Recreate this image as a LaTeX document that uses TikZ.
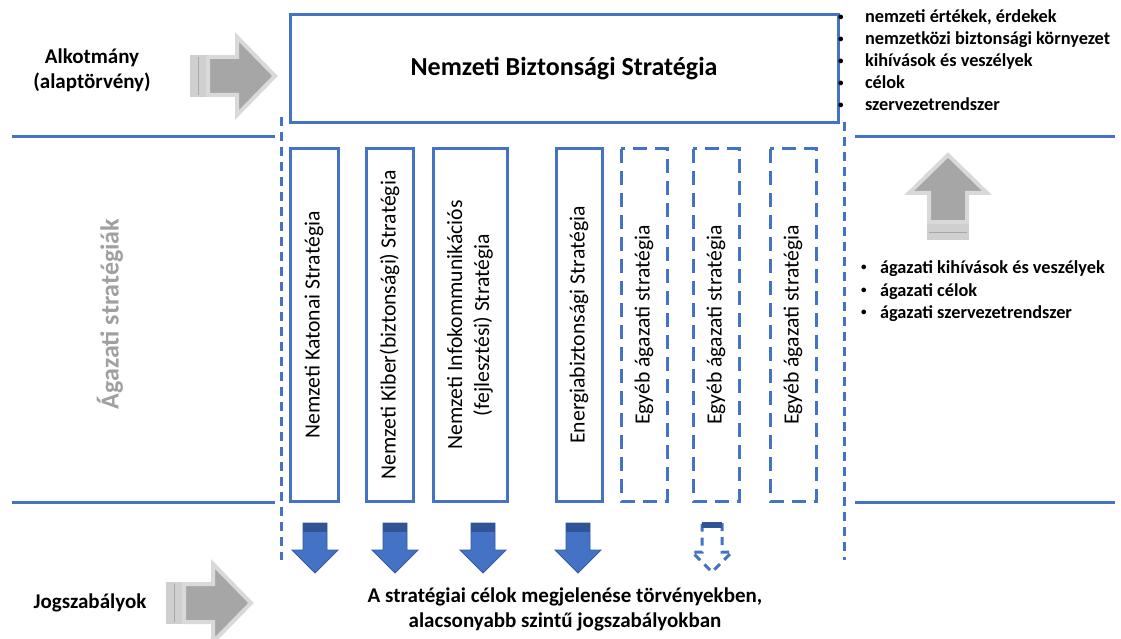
\documentclass[tikz,border=0pt]{standalone}
\usepackage{fontspec}
\setmainfont{Carlito}
\definecolor{oblue}{HTML}{4472C4}
\definecolor{dblue}{HTML}{2F5597}
\definecolor{agray}{HTML}{A6A6A6}
\definecolor{lgray}{HTML}{D9D9D9}
\definecolor{bgray}{HTML}{CFCFCF}
\definecolor{tgray}{HTML}{A0A0A0}
\newcommand\myvfont{\fontsize{21.7}{27}\selectfont}
\newcommand\mybfont{\fontsize{21}{25}\selectfont\bfseries}
\newcommand\mylfont{\fontsize{18.3}{22}\selectfont\bfseries}
\newcommand\mydot{\raisebox{0.25ex}{\fontsize{11}{11}\selectfont•}}
\tikzset{
  grayarrow/.pic={
    \fill[bgray] (0,-21) rectangle (16,21);
    \draw[agray, line width=1pt] (8,-19) -- (8,19);
    \filldraw[fill=agray, draw=lgray, line width=4pt, line join=miter]
      (18,-19) -- (47,-19) -- (47,-39) -- (85,0) -- (47,39) -- (47,19) -- (18,19) -- cycle;
  },
  bluearrow/.pic={
    \filldraw[fill=oblue, draw=dblue!80!oblue, line width=0.8pt, line join=miter]
      (-12,0) -- (12,0) -- (12,27) -- (23,27) -- (0,50) -- (-23,27) -- (-12,27) -- cycle;
    \fill[dblue] (-12,0) rectangle (12,9);
  },
  dasharrow/.pic={
    \draw[oblue, line width=3pt, dash pattern=on 8pt off 6pt]
      (10,0) -- (10,29) -- (20,29) -- (0,49) -- (-20,29) -- (-10,29) -- (-10,0);
    \fill[dblue] (-10,-1) rectangle (10,5);
  }
}
\begin{document}
\begin{tikzpicture}[x=1pt,y=-1pt,
  every node/.style={inner sep=0pt, outer sep=0pt},
  sline/.style={draw=oblue, line width=3pt},
  dline/.style={draw=oblue, line width=3pt, dash pattern=on 9pt off 6pt},
  stratbox/.style={draw=oblue, line width=3pt, rotate=90, minimum width=352pt, align=center, font=\myvfont},
  dbox/.style={stratbox, dash pattern=on 14pt off 8pt},
  bul/.style={anchor=base west, font=\mylfont},
  lbl/.style={align=center, font=\mybfont}
]
\useasboundingbox (0,0) rectangle (1121,639);

% separator lines
\draw[sline] (12,137) -- (275,137);
\draw[sline] (855,137) -- (1115,137);
\draw[sline] (12,502) -- (275,502);
\draw[sline] (855,502) -- (1115,502);

% dashed verticals
\draw[dline] (281,117) -- (281,560);
\draw[dline] (844,122) -- (844,560);

% main box
\node[sline, minimum width=548pt, minimum height=108pt, font=\fontsize{26}{30}\selectfont\bfseries] (nbs) at (564,69) {Nemzeti Biztonsági Stratégia};

% sector boxes
\node[stratbox, minimum height=48pt] (s1) at (314,325) {Nemzeti Katonai Stratégia};
\node[stratbox, minimum height=47pt] (s2) at (389.5,325) {Nemzeti Kiber(biztonsági) Stratégia};
\node[stratbox, minimum height=74pt] (s3) at (470,325) {Nemzeti Infokommunikációs\\(fejlesztési) Stratégia};
\node[stratbox, minimum height=46pt] (s4) at (579,325) {Energiabiztonsági Stratégia};
\node[dbox, minimum height=46pt] (s5) at (644,325) {Egyéb ágazati stratégia};
\node[dbox, minimum height=46pt] (s6) at (716,325) {Egyéb ágazati stratégia};
\node[dbox, minimum height=46pt] (s7) at (793,325) {Egyéb ágazati stratégia};

% left labels
\node[lbl] (alk) at (92,70) {Alkotmány\\(alaptörvény)};
\node[lbl, anchor=base] (jog) at (90,608) {Jogszabályok};
\node[rotate=90, font=\fontsize{26}{30}\selectfont\bfseries, text=tgray] (ag) at (110,314) {Ágazati stratégiák};

% gray arrows
\pic at (190,76) {grayarrow};
\pic at (166,603) {grayarrow};
\pic[rotate=90] at (948,240) {grayarrow};

% top bullets
\node[bul] (b1) at (838,23) {\makebox[27pt][l]{\mydot}nemzeti értékek, érdekek};
\node[bul] (b2) at (838,45) {\makebox[27pt][l]{\mydot}nemzetközi biztonsági környezet};
\node[bul] (b3) at (838,67) {\makebox[27pt][l]{\mydot}kihívások és veszélyek};
\node[bul] (b4) at (838,89) {\makebox[27pt][l]{\mydot}célok};
\node[bul] (b5) at (838,111) {\makebox[27pt][l]{\mydot}szervezetrendszer};

% lower bullets
\node[bul] (c1) at (861,273) {\makebox[19pt][l]{\mydot}ágazati kihívások és veszélyek};
\node[bul] (c2) at (861,296) {\makebox[19pt][l]{\mydot}ágazati célok};
\node[bul] (c3) at (861,318) {\makebox[19pt][l]{\mydot}ágazati szervezetrendszer};

% blue arrows
\pic at (315,523) {bluearrow};
\pic at (395,523) {bluearrow};
\pic at (483,523) {bluearrow};
\pic at (578,523) {bluearrow};
\pic at (712,523) {dasharrow};

% bottom text
\node[lbl] (bt) at (565,609) {A stratégiai célok megjelenése törvényekben,\\alacsonyabb szintű jogszabályokban};
\end{tikzpicture}
\end{document}
